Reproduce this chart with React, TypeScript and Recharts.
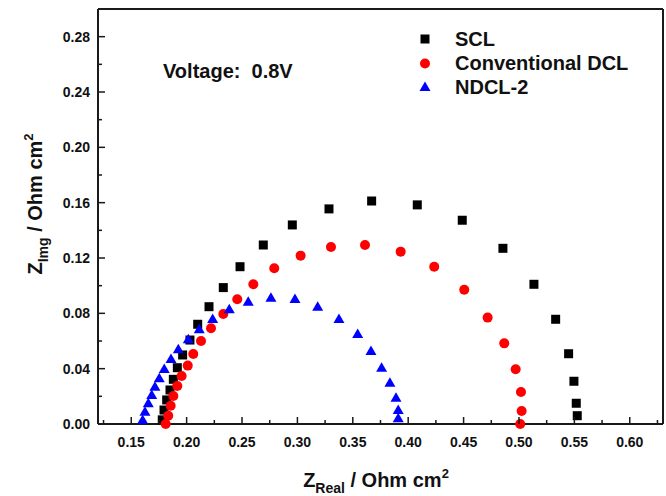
import React from "react";
import { ScatterChart, Scatter, XAxis, YAxis, ReferenceLine } from "recharts";

// Nyquist data (Z_real, Z_img) in Ohm cm2
const scl = [
  { x: 0.178, y: 0.003 }, { x: 0.1796, y: 0.0101 }, { x: 0.182, y: 0.0174 }, { x: 0.185, y: 0.0246 },
  { x: 0.188, y: 0.0323 }, { x: 0.1916, y: 0.0407 }, { x: 0.1964, y: 0.0499 }, { x: 0.203, y: 0.0607 },
  { x: 0.21, y: 0.0721 }, { x: 0.2202, y: 0.0848 }, { x: 0.2331, y: 0.0986 }, { x: 0.2482, y: 0.1137 },
  { x: 0.2692, y: 0.1294 }, { x: 0.2954, y: 0.1439 }, { x: 0.3285, y: 0.1555 }, { x: 0.367, y: 0.1612 },
  { x: 0.4082, y: 0.1584 }, { x: 0.4488, y: 0.1473 }, { x: 0.4855, y: 0.127 }, { x: 0.5135, y: 0.101 },
  { x: 0.5331, y: 0.0757 }, { x: 0.5448, y: 0.0508 }, { x: 0.5496, y: 0.0309 }, { x: 0.5517, y: 0.015 },
  { x: 0.5526, y: 0.006 },
];

const conventionalDcl = [
  { x: 0.1811, y: 0.0 }, { x: 0.1834, y: 0.006 }, { x: 0.1856, y: 0.0132 }, { x: 0.188, y: 0.0202 },
  { x: 0.1916, y: 0.0275 }, { x: 0.1955, y: 0.0347 }, { x: 0.201, y: 0.0422 }, { x: 0.206, y: 0.0506 },
  { x: 0.213, y: 0.06 }, { x: 0.222, y: 0.0692 }, { x: 0.2331, y: 0.0795 }, { x: 0.2457, y: 0.0902 },
  { x: 0.2602, y: 0.101 }, { x: 0.2791, y: 0.1126 }, { x: 0.3029, y: 0.1217 }, { x: 0.3303, y: 0.128 },
  { x: 0.361, y: 0.1294 }, { x: 0.3932, y: 0.1246 }, { x: 0.4235, y: 0.1137 }, { x: 0.4506, y: 0.0971 },
  { x: 0.4717, y: 0.0769 }, { x: 0.4867, y: 0.0583 }, { x: 0.497, y: 0.0396 }, { x: 0.5018, y: 0.0231 },
  { x: 0.5024, y: 0.0094 }, { x: 0.5011, y: 0.0 },
];

const ndcl2 = [
  { x: 0.1603, y: 0.0029 }, { x: 0.1624, y: 0.0089 }, { x: 0.1654, y: 0.015 }, { x: 0.1685, y: 0.021 },
  { x: 0.1714, y: 0.027 }, { x: 0.1753, y: 0.033 }, { x: 0.1798, y: 0.0398 }, { x: 0.1859, y: 0.047 },
  { x: 0.1925, y: 0.054 }, { x: 0.2015, y: 0.0612 }, { x: 0.2114, y: 0.0685 }, { x: 0.2235, y: 0.0759 },
  { x: 0.2385, y: 0.0829 }, { x: 0.2556, y: 0.0884 }, { x: 0.2761, y: 0.0913 }, { x: 0.2978, y: 0.0904 },
  { x: 0.3183, y: 0.0848 }, { x: 0.3375, y: 0.0759 }, { x: 0.3544, y: 0.0651 }, { x: 0.3664, y: 0.0528 },
  { x: 0.376, y: 0.0407 }, { x: 0.3835, y: 0.0299 }, { x: 0.389, y: 0.019 }, { x: 0.391, y: 0.0101 },
  { x: 0.391, y: 0.0041 },
];

const xTicks = [
  0.125, 0.15, 0.175, 0.2, 0.225, 0.25, 0.275, 0.3, 0.325, 0.35, 0.375,
  0.4, 0.425, 0.45, 0.475, 0.5, 0.525, 0.55, 0.575, 0.6, 0.625,
];
const xLabels = ["0.15", "0.20", "0.25", "0.30", "0.35", "0.40", "0.45", "0.50", "0.55", "0.60"];

const yTicks = [0, 0.02, 0.04, 0.06, 0.08, 0.1, 0.12, 0.14, 0.16, 0.18, 0.2, 0.22, 0.24, 0.26, 0.28];
const yLabels = ["0.00", "0.04", "0.08", "0.12", "0.16", "0.20", "0.24", "0.28"];

const FONT = "'Liberation Sans', Arial, sans-serif";
const AXIS = "#1a1a1a";

function XTick(props: any) {
  const { x, y, payload } = props;
  const label = payload.value.toFixed(2);
  const major = xLabels.includes(label);
  return (
    <g>
      <line x1={x} x2={x} y1={y} y2={y - (major ? 7 : 4)} stroke={AXIS} strokeWidth={1.5} />
      {major && (
        <text x={x} y={y + 23} textAnchor="middle" fontFamily={FONT} fontWeight="bold" fontSize={14} fill="#111">
          {label}
        </text>
      )}
    </g>
  );
}

function YTick(props: any) {
  const { x, y, payload } = props;
  const label = payload.value.toFixed(2);
  const major = yLabels.includes(label);
  return (
    <g>
      <line x1={x} x2={x + (major ? 7 : 4)} y1={y} y2={y} stroke={AXIS} strokeWidth={1.5} />
      {major && (
        <text x={x - 8} y={y + 5} textAnchor="end" fontFamily={FONT} fontWeight="bold" fontSize={14} fill="#111">
          {label}
        </text>
      )}
    </g>
  );
}

const SquareShape = (p: any) => <rect x={p.cx - 4.5} y={p.cy - 4.5} width={9} height={9} fill="#000" />;
const CircleShape = (p: any) => <circle cx={p.cx} cy={p.cy} r={5} fill="#ff0000" />;
const TriangleShape = (p: any) => (
  <polygon points={`${p.cx},${p.cy - 5.5} ${p.cx - 5.5},${p.cy + 4} ${p.cx + 5.5},${p.cy + 4}`} fill="#0000ff" />
);

export default function App() {
  return (
    <div style={{ position: "relative", width: 666, height: 496, background: "#fff" }}>
      <style>{"body{margin:0}"}</style>
      <ScatterChart width={666} height={496} margin={{ top: 9, right: 3, bottom: 0, left: 0 }}>
        <XAxis
          type="number"
          dataKey="x"
          domain={[0.12, 0.63]}
          ticks={xTicks}
          interval={0}
          height={72}
          tickSize={0}
          tickMargin={0}
          tickLine={false}
          tick={<XTick />}
          axisLine={{ stroke: AXIS, strokeWidth: 2 }}
        />
        <YAxis
          type="number"
          dataKey="y"
          domain={[0, 0.3]}
          ticks={yTicks}
          interval={0}
          width={98}
          tickSize={0}
          tickMargin={0}
          tickLine={false}
          tick={<YTick />}
          axisLine={{ stroke: AXIS, strokeWidth: 2 }}
        />
        <ReferenceLine y={0.3} stroke={AXIS} strokeWidth={2} />
        <ReferenceLine x={0.63} stroke={AXIS} strokeWidth={2} />
        <Scatter name="SCL" data={scl} shape={SquareShape} isAnimationActive={false} />
        <Scatter name="Conventional DCL" data={conventionalDcl} shape={CircleShape} isAnimationActive={false} />
        <Scatter name="NDCL-2" data={ndcl2} shape={TriangleShape} isAnimationActive={false} />
      </ScatterChart>
      <svg
        width={666}
        height={496}
        style={{ position: "absolute", left: 0, top: 0, pointerEvents: "none" }}
        fontFamily={FONT}
        fontWeight="bold"
        fill="#111"
      >
        <text x={163} y={78} fontSize={20}>Voltage:&#160;&#160;0.8V</text>

        <rect x={420.5} y={34.5} width={9} height={9} fill="#000" />
        <text x={455} y={46} fontSize={20}>SCL</text>
        <circle cx={425} cy={63.5} r={5} fill="#ff0000" />
        <text x={455} y={70} fontSize={20}>Conventional DCL</text>
        <polygon points="425,81.5 419.5,91 430.5,91" fill="#0000ff" />
        <text x={455} y={94} fontSize={20}>NDCL-2</text>

        <text x={376} y={487} fontSize={20} textAnchor="middle">
          Z<tspan fontSize={14} dy={6}>Real</tspan>
          <tspan dy={-6}> / Ohm cm</tspan>
          <tspan fontSize={13} dy={-9}>2</tspan>
        </text>
        <text transform="translate(42,204) rotate(-90)" fontSize={20} textAnchor="middle">
          Z<tspan fontSize={14} dy={6}>Img</tspan>
          <tspan dy={-6}> / Ohm cm</tspan>
          <tspan fontSize={13} dy={-9}>2</tspan>
        </text>
      </svg>
    </div>
  );
}
